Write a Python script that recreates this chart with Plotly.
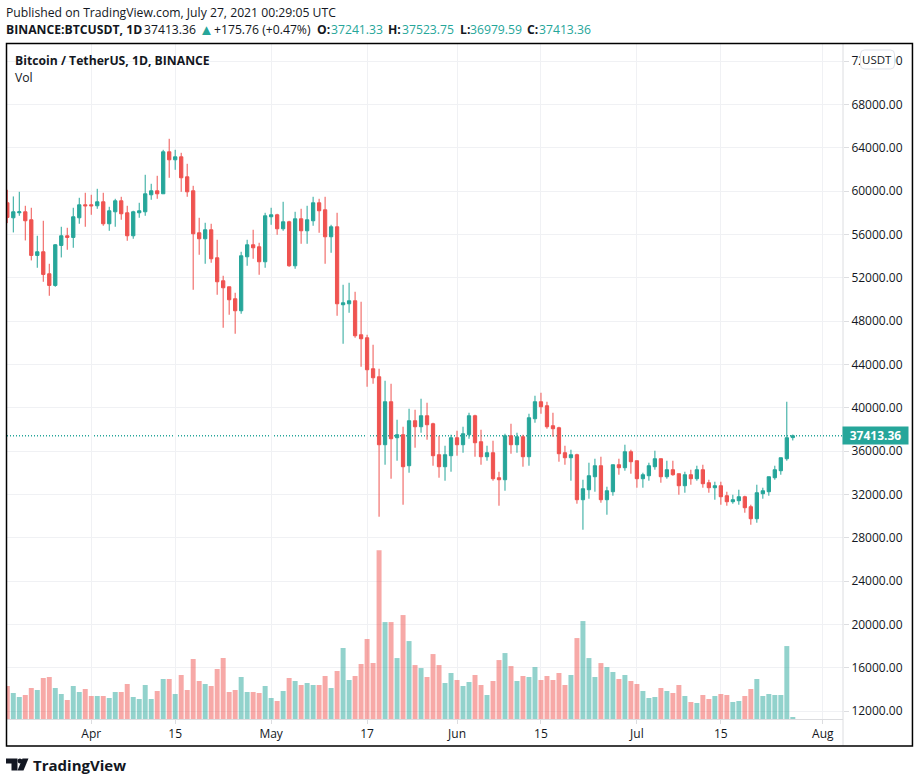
import pandas as pd
import plotly.graph_objects as go

dates = pd.date_range("2021-03-18", "2021-07-27", freq="D")

opens = [58923,57538,58000,58092,57354,54062,54400,52369,51292,54985,55877,55723,57538,58738,
 58738,58646,59015,56985,58092,59108,58000,55877,58000,58092,59662,60031,59754,63631,62892,63169,61323,60031,56154,55600,56431,53846,51723,51169,50062,48954,53938,55046,54862,53477,
 57631,57815,56523,57169,53108,57446,56338,57262,58923,58277,55785,56708,49508,49600,49877,46738,46462,43600,42862,36585,40554,37231,37508,34646,38800,38246,39262,38523,35662,34554,35569,
 37231,36585,37508,39262,36862,35477,35846,33538,33354,37415,36585,37323,35477,38985,40554,40185,38338,38154,35846,35385,35662,31508,32431,33631,34646,31508,32246,34738,34462,35938,
 35108,33446,33723,34554,35292,33631,34277,33908,32800,33815,33446,34277,33077,32615,32800,31877,31323,31415,31785,30862,29754,32062,32246,33538,34185,35292,37241.33]
highs = [60123,59508,59938,58646,58462,55877,57262,53292,55108,56708,56615,58462,59385,59846,
 59662,60215,59846,58554,59292,59477,58646,58185,58923,61508,60677,61415,63815,64831,63815,63538,62523,60492,57538,57077,56985,55508,52185,51169,50615,54400,55508,56431,55231,58000,
 58462,57908,59015,57262,58092,58369,58646,59477,59292,59477,56892,58000,51354,51538,50708,49785,46738,45815,43600,42492,42215,38892,38246,39908,39815,40831,40462,38615,37415,36492,37508,
 37877,38246,39538,39354,37969,36492,36954,34092,37600,38523,37692,37508,39446,41108,41385,40554,39538,38246,36492,36123,35754,33354,34923,35292,35477,32708,34738,35292,36585,36123,
 35108,34000,34923,36031,35292,35108,35108,33908,34092,34277,34646,34738,33354,33169,33169,32246,31969,32431,31877,31046,32892,32615,33631,34646,35385,40554,37523.75]
lows = [57046,56185,57723,55446,53600,52923,51631,50338,51169,53877,54585,54769,56985,56708,
 57815,58369,56800,56338,56708,57354,55415,55600,57538,57723,59200,59292,59754,61231,61969,59938,59477,50892,54123,53292,53385,50431,47385,48585,46831,48677,53108,53754,52277,52923,
 56892,55969,56338,53015,52831,55138,55138,56800,56154,53292,54308,48492,45908,48769,46462,43785,41938,42215,29938,34738,33446,35108,31046,34000,36308,37692,37046,34646,33538,33262,34092,
 35569,35846,37138,35477,34738,35108,33262,30954,32338,35754,35846,34554,34646,38615,39446,38062,37323,35015,34738,33262,31138,28738,31600,32246,31231,30123,31877,33815,34185,33908,
 32615,32615,33262,34277,33077,33446,33723,31969,32154,32892,33262,32615,32154,31508,31046,30954,31138,31046,30308,29200,29385,31600,31877,33354,33815,35108,36979.59]
closes = [57569,58092,58092,57262,54062,54400,52308,51292,55046,55877,55723,57631,58738,58646,
 58646,59015,56985,58185,59108,57908,55877,58092,58185,59754,60031,59754,63631,62892,63169,61231,59938,56062,55600,56431,53754,51631,51077,49969,48954,54031,55046,54769,53477,57723,
 57815,56523,57169,53108,57446,56338,57354,58923,58185,55785,56708,49600,49692,49877,46646,46369,43508,42769,36585,40554,37138,37508,34554,38800,38246,39262,38431,35569,34554,35662,37231,
 36585,37600,39262,36769,35477,35846,33446,33354,37415,36585,37323,35477,39077,40554,40092,38246,38062,35754,35385,35662,31508,32523,33723,34646,31508,32338,34738,34462,35938,35015,
 33446,33815,34646,35292,33631,34277,33815,32800,33815,33446,34277,32985,32615,32800,31785,31323,31508,31785,30769,29754,32154,32338,33631,34277,35385,37231,37413.36]
volumes = [52.8,41.6,35.2,38.4,49.6,46.4,65.6,67.2,49.6,40,30.4,52.8,43.2,48,
 36.8,36.8,36.8,33.6,43.2,43.2,56,35.2,32,54.4,32,44.8,64,64,40,70.4,46.4,96,60.8,56,52.8,80,97.6,43.2,46.4,67.2,43.2,43.2,41.6,52.8,
 33.6,28.8,44.8,65.6,60.8,54.4,57.6,54.4,54.4,68.8,49.6,76.8,113.6,62.4,68.8,88,128,89.6,270.2,155.1,155.1,97.5,166.3,124.7,86.3,81.5,67.2,103.9,86.3,57.6,73.6,
 62.4,52.8,59.2,70.4,54.4,38.4,60.8,94.3,105.5,84.7,60.8,68.8,67.2,83.1,62.4,68.8,62.4,73.6,54.4,70.4,129.5,156.7,97.5,67.2,89.5,83.1,75.2,64,70.4,60.8,
 56,44.8,33.6,35.2,49.6,44.8,41.6,54.4,36.8,27.2,25.6,38.4,32,36.8,40,38.4,27.2,28.8,36.8,48,64,36.8,40,38.4,38.4,116.7,3.2]

price_ticks = list(range(12000, 72001, 4000))
price_labels = [f"{v}.00" for v in price_ticks]
date_ticks = ["2021-04-01","2021-04-15","2021-05-01","2021-05-17","2021-06-01","2021-06-15","2021-07-01","2021-07-15","2021-08-01"]
date_labels = ["Apr","15","May","17","Jun","15","Jul","15","Aug"]
last_price = 37413.36

UP = "#26a69a"; DOWN = "#ef5350"; INK = "#131722"; GRID = "#f0f1f4"; AXIS = "#dcdde0"
FONT = "Open Sans"
W, H = 920, 784
L, R, T, B = 7, 76.5, 44, 64.5
PW, PH = W - L - R, H - T - B
def px(x): return (x - L) / PW
def py(y): return (H - B - y) / PH

vol_colors = ["rgba(38,166,154,0.5)" if c >= o else "rgba(239,83,80,0.5)" for o, c in zip(opens, closes)]

fig = go.Figure()
fig.add_trace(go.Bar(x=dates, y=volumes, marker=dict(color=vol_colors, line_width=0), yaxis="y2", hoverinfo="skip", showlegend=False))
fig.add_trace(go.Candlestick(x=dates, open=opens, high=highs, low=lows, close=closes, whiskerwidth=0,
    increasing=dict(line=dict(color=UP, width=1), fillcolor=UP),
    decreasing=dict(line=dict(color=DOWN, width=1), fillcolor=DOWN), showlegend=False))

def rounded(x0, y0, x1, y1, r):
    return (f"M {px(x0+r)},{py(y0)} L {px(x1-r)},{py(y0)} Q {px(x1)},{py(y0)} {px(x1)},{py(y0+r)} "
            f"L {px(x1)},{py(y1-r)} Q {px(x1)},{py(y1)} {px(x1-r)},{py(y1)} "
            f"L {px(x0+r)},{py(y1)} Q {px(x0)},{py(y1)} {px(x0)},{py(y1-r)} "
            f"L {px(x0)},{py(y0+r)} Q {px(x0)},{py(y0)} {px(x0+r)},{py(y0)} Z")

shapes = [
    dict(type="line", xref="paper", yref="y", x0=0, x1=1, y0=last_price, y1=last_price, layer="below",
         line=dict(color=UP, width=1.4, dash="1px,2px")),
    dict(type="line", xref="paper", yref="paper", x0=1, x1=1, y0=py(746), y1=1, line=dict(color=AXIS, width=1)),
    dict(type="rect", xref="paper", yref="paper", x0=px(6.5), x1=px(913), y0=py(746.5), y1=py(43.5), line=dict(color="#000000", width=1.5)),
    dict(type="path", xref="paper", yref="paper", fillcolor="#ffffff", line=dict(color="#dfe2ea", width=1), path=rounded(861, 50, 895, 69, 4)),
    # TradingView logo
    dict(type="path", xref="paper", yref="paper", fillcolor=INK, line_width=0,
         path=" ".join(f"{c} {px(a)},{py(b)}" for c,a,b in [("M",6,759),("L",17.5,759),("L",17.5,771),("L",11.5,771),("L",11.5,764),("L",6,764)])+" Z"),
    dict(type="path", xref="paper", yref="paper", fillcolor=INK, line_width=0,
         path=" ".join(f"{c} {px(a)},{py(b)}" for c,a,b in [("M",22.5,759),("L",28.5,759),("L",23.5,771),("L",17.5,771)])+" Z"),
    dict(type="circle", xref="paper", yref="paper", fillcolor=INK, line_width=0, x0=px(17.5), x1=px(22.5), y0=py(764), y1=py(759)),
]

def note(x, y, text, size=12.2, color=INK):
    return dict(xref="paper", yref="paper", x=px(x - 2), y=py(y), text=text, showarrow=False, xanchor="left", yanchor="middle",
                font=dict(family=FONT, size=size, color=color), align="left")

annotations = [
    note(6, 12, "Published on TradingView.com, July 27, 2021 00:29:05 UTC"),
    note(6, 29, "<b>BINANCE:BTCUSDT, 1D</b>"),
    note(144, 29, "37413.36"),
    note(199, 28.5, "▲", color=UP, size=15),
    note(214, 29, "+175.76 (+0.47%)"),
    note(317.5, 29, "<b>O:</b>"), note(331.5, 29, "37241.33", color=UP),
    note(388, 29, "<b>H:</b>"), note(402.5, 29, "37523.75", color=UP),
    note(460, 29, "<b>L:</b>"), note(470.5, 29, "36979.59", color=UP),
    note(527, 29, "<b>C:</b>"), note(539, 29, "37413.36", color=UP),
    note(15, 60.5, "<b>Bitcoin / TetherUS, 1D, BINANCE</b>"),
    note(15, 77.5, "Vol"),
    note(33, 766, "<b>TradingView</b>", size=15),
    dict(xref="paper", yref="paper", x=px(878), y=py(59.5), text="USDT", showarrow=False, xanchor="center", yanchor="middle",
         font=dict(family=FONT, size=11.5, color=INK)),
    dict(xref="paper", yref="y", x=1, y=last_price, text="<b>37413.36</b>", showarrow=False, xanchor="left", yanchor="middle", bgcolor=UP,
         width=63, height=15, xshift=-1, font=dict(family=FONT, size=12, color="#ffffff")),
]

fig.update_layout(
    width=W, height=H, margin=dict(l=L, r=R, t=T, b=B), paper_bgcolor="#ffffff", plot_bgcolor="#ffffff",
    boxgap=0.22, bargap=0.17, showlegend=False, shapes=shapes, annotations=annotations,
    font=dict(family=FONT, size=12, color=INK),
    xaxis=dict(type="date", range=["2021-03-17 22:48", "2021-08-04 08:53"], rangeslider=dict(visible=False),
               tickmode="array", tickvals=date_ticks, ticktext=date_labels, showgrid=True, gridcolor=GRID, gridwidth=1,
               ticks="outside", ticklen=4, tickcolor=AXIS, showline=True, linecolor=AXIS, linewidth=1, zeroline=False,
               tickfont=dict(family=FONT, size=12, color=INK)),
    yaxis=dict(range=[11262, 73584], side="right", tickmode="array", tickvals=price_ticks, ticktext=price_labels,
               showgrid=True, gridcolor=GRID, gridwidth=1, ticks="outside", ticklen=5, tickcolor=AXIS, showline=False, zeroline=False,
               tickfont=dict(family=FONT, size=12, color=INK)),
    yaxis2=dict(range=[0, 1080], overlaying="y", visible=False, fixedrange=True),
)

fig.write_html("out.html", config=dict(displayModeBar=False), post_script="document.body.style.margin='0';document.body.style.overflow='hidden';")
